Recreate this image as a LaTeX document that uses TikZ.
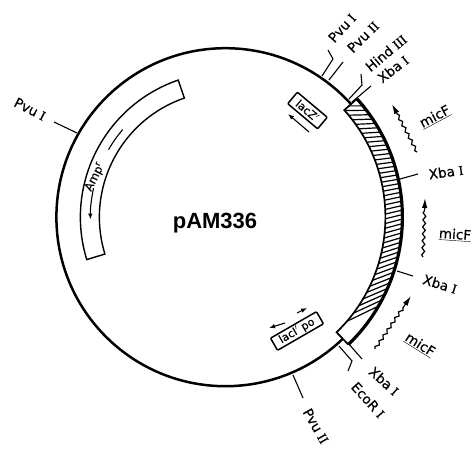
\documentclass[tikz,border=0pt]{standalone}
\usepackage{fontspec}
\setmainfont[FakeBold=0.4]{DejaVu Sans}
\newfontfamily\romfont[FakeBold=0.4]{Liberation Serif}
\newfontfamily\titlefont{Liberation Sans}
\usetikzlibrary{arrows.meta,calc,decorations.pathmorphing}
\newcommand{\rnum}[1]{\hspace{0.3em}{\romfont #1}}

\begin{document}
\begin{tikzpicture}[
  x=1pt, y=1pt,
  sitelabel/.style={font=\fontsize{13.5}{15}\selectfont, inner sep=0pt},
  tick/.style={line width=1.1pt},
  boxlabel/.style={draw, line width=1.5pt, rounded corners=1pt, inner sep=0pt, font=\fontsize{11}{12}\selectfont},
  arrow/.style={-{Latex[length=6pt, width=4.5pt]}, line width=1.1pt},
  wave/.style={-{Latex[length=10pt, width=5.5pt]}, line width=1.2pt, decorate,
    decoration={snake, amplitude=1.4pt, segment length=7pt, post length=11pt}}
]
  \useasboundingbox (0,0) rectangle (474,448);

  \begin{scope}[shift={(225.4,230.8)}]
    \draw[line width=2.5pt] (0,0) circle[radius=169];
    \fill[white] (42:177) arc[start angle=42, end angle=-46, radius=177]
      -- (-46:160) arc[start angle=-46, end angle=42, radius=160] -- cycle;
    \begin{scope}
      \clip (42:177) arc[start angle=42, end angle=-46, radius=177]
        -- (-46:160) arc[start angle=-46, end angle=42, radius=160] -- cycle;
      \foreach \n [remember=\ang as \prev (initially 43.5),
                   evaluate=\n as \ang using \prev-1.53/sin(76+1.34*\prev),
                   evaluate=\n as \slope using 14-0.34*\ang] in {1,...,44}
        \draw[line width=1.2pt] ($(\ang:168.5)+(\slope:-45)$) -- ($(\ang:168.5)+(\slope:45)$);
    \end{scope}
    \draw[line width=1.7pt] (42:177) -- (42:160) arc[start angle=42, end angle=-46, radius=160] -- (-46:177);
    \draw[line width=3.2pt] (42:177) arc[start angle=42, end angle=-46, radius=177];

    \draw[line width=1.4pt] (109:145) arc[start angle=109, end angle=197, radius=145]
      -- (197:126) arc[start angle=197, end angle=109, radius=126] -- cycle;
    \draw[line width=1.1pt] (139.5:135) arc[start angle=139.5, end angle=150, radius=135];
    \draw[arrow] (167.6:135) arc[start angle=167.6, end angle=181, radius=135];
  \end{scope}

  \node[font=\fontsize{11.5}{13}\selectfont, rotate=63, inner sep=0pt] (amp) at (95,271) {Amp\textsuperscript{r}};
  \node[font=\titlefont\bfseries\fontsize{22}{24}\selectfont, anchor=base] (name) at (215,220) {pAM336};

  \node[sitelabel, rotate=-27] (pvuA) at (30,339) {Pvu\rnum{I}};
  \node[sitelabel, rotate=48] (pvuB) at (342,420) {Pvu\rnum{I}};
  \node[sitelabel, rotate=45] (pvuC) at (363,411) {Pvu\rnum{II}};
  \node[sitelabel, rotate=40] (hind) at (386,395) {Hind\rnum{III}};
  \node[sitelabel, rotate=38] (xbaA) at (393,379) {Xba\rnum{I}};
  \node[sitelabel, rotate=8] (xbaB) at (446,276) {Xba\rnum{I}};
  \node[sitelabel, rotate=-17] (xbaC) at (440,164) {Xba\rnum{I}};
  \node[sitelabel, rotate=-42] (xbaD) at (384,67) {Xba\rnum{I}};
  \node[sitelabel, rotate=-48] (eco) at (368,48) {EcoR\rnum{I}};
  \node[sitelabel, rotate=-60] (pvuD) at (316,22) {Pvu\rnum{II}};

  \coordinate (pvuAa) at (77,315);
  \coordinate (pvuAb) at (54,326);
  \coordinate (pvuBa) at (322,372);
  \coordinate (pvuBb) at (333,389);
  \coordinate (pvuBc) at (328,398);
  \coordinate (pvuCa) at (329,368);
  \coordinate (pvuCb) at (343,386);
  \coordinate (hindA) at (349,349);
  \coordinate (hindB) at (362,363);
  \coordinate (hindC) at (361,374);
  \coordinate (xbaAa) at (352,346);
  \coordinate (xbaAb) at (371,362);
  \coordinate (xbaBa) at (400,269);
  \coordinate (xbaBb) at (418,274);
  \coordinate (xbaCa) at (397,177);
  \coordinate (xbaCb) at (413,172);
  \coordinate (xbaDa) at (348,105);
  \coordinate (xbaDb) at (362,89);
  \coordinate (ecoA) at (339,102);
  \coordinate (ecoB) at (352,87);
  \coordinate (ecoC) at (348,77);
  \coordinate (pvuDa) at (293,73);
  \coordinate (pvuDb) at (303,50);

  \draw[tick] (pvuAa) -- (pvuAb);
  \draw[tick] (pvuBa) -- (pvuBb) -- (pvuBc);
  \draw[tick] (pvuCa) -- (pvuCb);
  \draw[tick] (hindA) -- (hindB) -- (hindC);
  \draw[tick] (xbaAa) -- (xbaAb);
  \draw[tick] (xbaBa) -- (xbaBb);
  \draw[tick] (xbaCa) -- (xbaCb);
  \draw[tick] (xbaDa) -- (xbaDb);
  \draw[tick] (ecoA) -- (ecoB) -- (ecoC);
  \draw[tick] (pvuDa) -- (pvuDb);

  \node[sitelabel, rotate=28] (micA) at (435,331) {\underline{micF}};
  \node[sitelabel, rotate=-4] (micB) at (455,213) {\underline{micF}};
  \node[sitelabel, rotate=-32] (micC) at (420,103) {\underline{micF}};

  \coordinate (waveAa) at (417,296);
  \coordinate (waveAb) at (392,344);
  \coordinate (waveBa) at (423,191);
  \coordinate (waveBb) at (425,250);
  \coordinate (waveCa) at (375,99);
  \coordinate (waveCb) at (411,152);

  \draw[wave] (waveAa) -- (waveAb);
  \draw[wave] (waveBa) -- (waveBb);
  \draw[wave] (waveCa) -- (waveCb);

  \node[boxlabel, rotate=-40, minimum width=39pt, minimum height=15pt] (lacZ) at (307.5,337.5) {lacZ$'$};
  \node[boxlabel, rotate=30, minimum width=53pt, minimum height=14pt] (lacI) at (297,117) {lacI$'$ po};

  \coordinate (lacZa) at (309,316);
  \coordinate (lacZb) at (288,334);
  \coordinate (lacIa) at (285,125);
  \coordinate (lacIb) at (269,120);
  \coordinate (lacIc) at (297,135);
  \coordinate (lacId) at (307,140);

  \draw[arrow] (lacZa) -- (lacZb);
  \draw[arrow] (lacIa) -- (lacIb);
  \draw[arrow] (lacIc) -- (lacId);
\end{tikzpicture}
\end{document}
